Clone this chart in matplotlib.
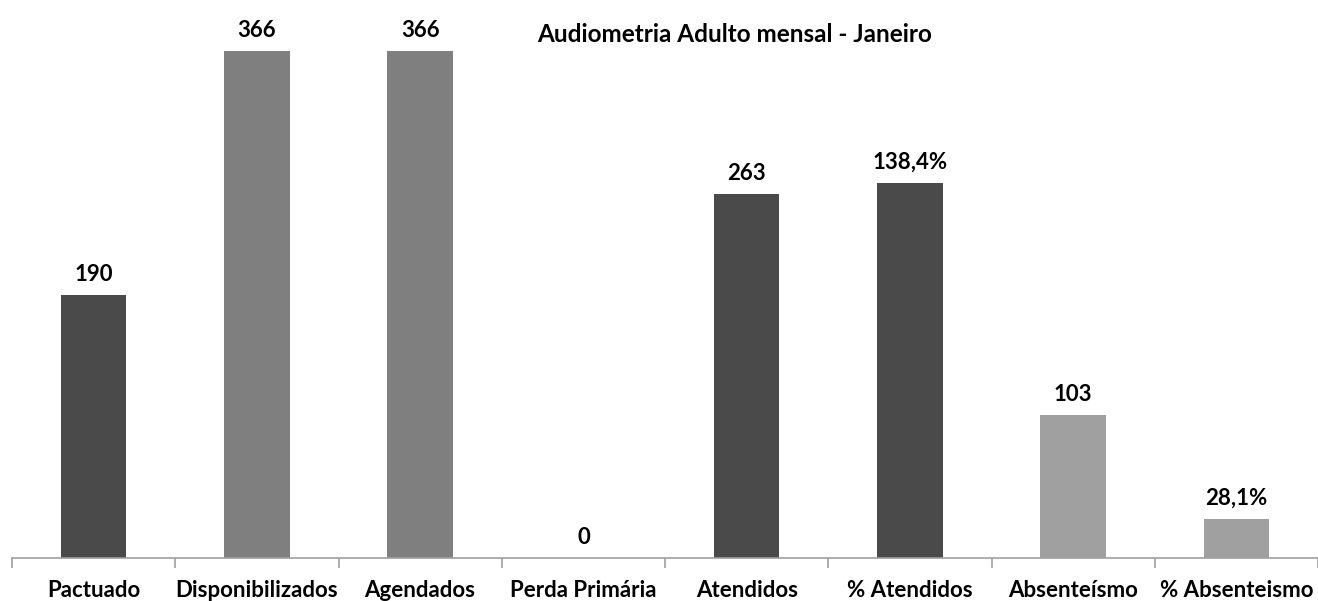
import matplotlib.pyplot as plt
import numpy as np

# Dados do gráfico
categorias = ['Pactuado', 'Disponibilizados', 'Agendados', 'Perda Primária',
              'Atendidos', '% Atendidos', 'Absenteísmo', '% Absenteismo']
valores = [190, 366, 366, 0, 263, 138.4, 103, 28.1]
# altura das barras como aparecem no gráfico (% Atendidos desenhado em outra escala)
alturas = [190, 366, 366, 0, 263, 271, 103, 28.1]
rotulos = ['190', '366', '366', '0', '263', '138,4%', '103', '28,1%']
cores = ['#4a4a4a', '#7f7f7f', '#7f7f7f', '#7f7f7f',
         '#4a4a4a', '#4a4a4a', '#a0a0a0', '#a0a0a0']

plt.rcParams['font.family'] = ['Lato', 'DejaVu Sans']
plt.rcParams['font.weight'] = 'bold'

fig = plt.figure(figsize=(13.18, 6.01), dpi=100)
ax = fig.add_axes([12 / 1318, 43 / 601, 1306 / 1318, 554 / 601])

x = np.arange(len(categorias))
ax.bar(x, alturas, width=0.4, color=cores)

for xi, h, r in zip(x, alturas, rotulos):
    ax.annotate(r, (xi, h), xytext=(0, 10), textcoords='offset points',
                ha='center', va='baseline', fontsize=16, fontweight='bold')

ax.set_xlim(-0.5, 7.5)
ax.set_ylim(0, 400)

for s in ['top', 'right', 'left']:
    ax.spines[s].set_visible(False)
ax.spines['bottom'].set_color('#a0a0a0')
ax.spines['bottom'].set_linewidth(1.2)
ax.set_yticks([])

ax.set_xticks(x)
ax.set_xticklabels(categorias, fontsize=16, fontweight='bold')
ax.tick_params(axis='x', which='major', length=0, pad=16)
ax.set_xticks(np.arange(-0.5, 8, 1), minor=True)
ax.tick_params(axis='x', which='minor', length=7, width=1.2, color='#a0a0a0', direction='out')

fig.text(735 / 1318, 1 - 42 / 601, 'Audiometria Adulto mensal - Janeiro',
         ha='center', va='baseline', fontsize=17.5, fontweight='bold')

fig.savefig('out.png', dpi=100)
